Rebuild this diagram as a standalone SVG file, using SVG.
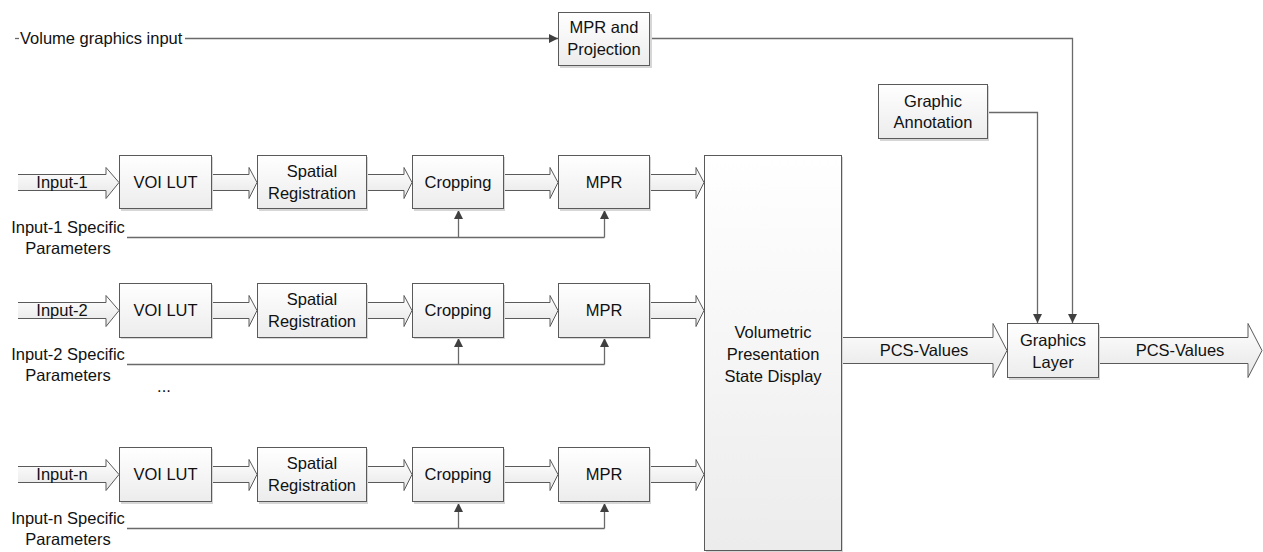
<svg xmlns="http://www.w3.org/2000/svg" width="1263" height="552" viewBox="0 0 1263 552">
  <defs>
    <linearGradient id="boxFill" x1="0" y1="0" x2="0" y2="1">
      <stop offset="0" stop-color="#ffffff"/>
      <stop offset="1" stop-color="#ececec"/>
    </linearGradient>
    <linearGradient id="arrowFill" x1="0" y1="0" x2="0" y2="1">
      <stop offset="0" stop-color="#ffffff"/>
      <stop offset="1" stop-color="#e6e6e6"/>
    </linearGradient>
    <marker id="head" viewBox="0 0 10 10" refX="10" refY="5" markerWidth="9" markerHeight="9" markerUnits="userSpaceOnUse" orient="auto">
      <path d="M0,0 L10,5 L0,10 Z" fill="#404040"/>
    </marker>
    <style>
      .box { fill: url(#boxFill); stroke: #5a5a5a; stroke-width: 1; }
      .shadow { fill: #d6d6d6; }
      .blk { fill: url(#arrowFill); stroke: #5a5a5a; stroke-width: 1; }
      .wire { fill: none; stroke: #6a6a6a; stroke-width: 1.3; }
      .wire-a { fill: none; stroke: #6a6a6a; stroke-width: 1.3; marker-end: url(#head); }
      text { font-family: "Liberation Sans", Arial, sans-serif; font-size: 16.5px; fill: #111111; }
      .c { text-anchor: middle; }
    </style>
  </defs>

  <rect width="1263" height="552" fill="#ffffff"/>

  <!-- thin connectors -->
  <g id="connectors">
    <path class="wire" d="M15,38.5 H19"/>
    <path class="wire-a" d="M185,38.5 H558"/>
    <path class="wire-a" d="M650,38.5 H1072.5 V323"/>
    <path class="wire-a" d="M988,112.5 H1037.5 V323"/>
    <!-- parameter lines -->
    <path class="wire" d="M127,237.5 H604.5"/>
    <path class="wire-a" d="M458.5,237.5 V210"/>
    <path class="wire-a" d="M604.5,237.5 V210"/>
    <path class="wire" d="M127,364.5 H604.5"/>
    <path class="wire-a" d="M458.5,364.5 V338"/>
    <path class="wire-a" d="M604.5,364.5 V338"/>
    <path class="wire" d="M127,528.5 H604.5"/>
    <path class="wire-a" d="M458.5,528.5 V503"/>
    <path class="wire-a" d="M604.5,528.5 V503"/>
  </g>

  <!-- block arrows -->
  <g id="flow-arrows">
    <!-- row 1 -->
    <path class="blk" d="M18,174.5 H106 V167.5 L119,182.5 L106,198.5 V190.5 H18"/>
    <path class="blk" d="M212,174.5 H249 V167.5 L257,182.5 L249,198.5 V190.5 H212"/>
    <path class="blk" d="M367,174.5 H404 V167.5 L412,182.5 L404,198.5 V190.5 H367"/>
    <path class="blk" d="M504,174.5 H550 V167.5 L558,182.5 L550,198.5 V190.5 H504"/>
    <path class="blk" d="M650,174.5 H696 V167.5 L704,182.5 L696,198.5 V190.5 H650"/>
    <!-- row 2 -->
    <path class="blk" d="M18,302.5 H106 V295.5 L119,310.5 L106,326.5 V318.5 H18"/>
    <path class="blk" d="M212,302.5 H249 V295.5 L257,310.5 L249,326.5 V318.5 H212"/>
    <path class="blk" d="M367,302.5 H404 V295.5 L412,310.5 L404,326.5 V318.5 H367"/>
    <path class="blk" d="M504,302.5 H550 V295.5 L558,310.5 L550,326.5 V318.5 H504"/>
    <path class="blk" d="M650,302.5 H696 V295.5 L704,310.5 L696,326.5 V318.5 H650"/>
    <!-- row n -->
    <path class="blk" d="M18,466.5 H106 V459.5 L119,474.5 L106,490.5 V482.5 H18"/>
    <path class="blk" d="M212,466.5 H249 V459.5 L257,474.5 L249,490.5 V482.5 H212"/>
    <path class="blk" d="M367,466.5 H404 V459.5 L412,474.5 L404,490.5 V482.5 H367"/>
    <path class="blk" d="M504,466.5 H550 V459.5 L558,474.5 L550,490.5 V482.5 H504"/>
    <path class="blk" d="M650,466.5 H696 V459.5 L704,474.5 L696,490.5 V482.5 H650"/>
    <!-- output side -->
    <path class="blk" d="M842,337.5 H993 V323.5 L1007,350.5 L993,377.5 V363.5 H842"/>
    <path class="blk" d="M1098,337.5 H1248 V323.5 L1262,350.5 L1248,377.5 V363.5 H1098"/>
  </g>

  <!-- flow labels -->
  <g id="labels">
    <text x="20" y="44">Volume graphics input</text>
    <text class="c" x="62" y="188">Input-1</text>
    <text class="c" x="62" y="316">Input-2</text>
    <text class="c" x="62" y="480">Input-n</text>
    <text class="c" x="68" y="233">Input-1 Specific</text>
    <text class="c" x="68" y="254">Parameters</text>
    <text class="c" x="68" y="360">Input-2 Specific</text>
    <text class="c" x="68" y="381">Parameters</text>
    <text class="c" x="68" y="524">Input-n Specific</text>
    <text class="c" x="68" y="545">Parameters</text>
    <text class="c" x="164" y="392">...</text>
    <text class="c" x="924" y="356">PCS-Values</text>
    <text class="c" x="1180" y="356">PCS-Values</text>
  </g>

  <!-- top nodes -->
  <g id="mpr-projection">
    <rect class="shadow" x="560" y="14" width="92" height="54"/>
    <rect class="box" x="558.5" y="12.5" width="91" height="53"/>
    <text class="c" x="604" y="33">MPR and</text>
    <text class="c" x="604" y="55">Projection</text>
  </g>
  <g id="graphic-annotation">
    <rect class="shadow" x="880" y="86" width="109" height="55"/>
    <rect class="box" x="878.5" y="84.5" width="109" height="54"/>
    <text class="c" x="933" y="107">Graphic</text>
    <text class="c" x="933" y="128">Annotation</text>
  </g>

  <!-- row 1 -->
  <g id="voi-lut-1">
    <rect class="shadow" x="121" y="157" width="92" height="54"/>
    <rect class="box" x="119.5" y="155.5" width="92" height="53"/>
    <text class="c" x="165.5" y="188">VOI LUT</text>
  </g>
  <g id="spatial-registration-1">
    <rect class="shadow" x="259" y="157" width="109" height="54"/>
    <rect class="box" x="257.5" y="155.5" width="109" height="53"/>
    <text class="c" x="312" y="177">Spatial</text>
    <text class="c" x="312" y="199">Registration</text>
  </g>
  <g id="cropping-1">
    <rect class="shadow" x="414" y="157" width="91" height="54"/>
    <rect class="box" x="412.5" y="155.5" width="91" height="53"/>
    <text class="c" x="458" y="188">Cropping</text>
  </g>
  <g id="mpr-1">
    <rect class="shadow" x="560" y="157" width="91" height="54"/>
    <rect class="box" x="558.5" y="155.5" width="91" height="53"/>
    <text class="c" x="604" y="188">MPR</text>
  </g>

  <!-- row 2 -->
  <g id="voi-lut-2">
    <rect class="shadow" x="121" y="285" width="92" height="54"/>
    <rect class="box" x="119.5" y="283.5" width="92" height="54"/>
    <text class="c" x="165.5" y="316">VOI LUT</text>
  </g>
  <g id="spatial-registration-2">
    <rect class="shadow" x="259" y="285" width="109" height="54"/>
    <rect class="box" x="257.5" y="283.5" width="109" height="54"/>
    <text class="c" x="312" y="305">Spatial</text>
    <text class="c" x="312" y="327">Registration</text>
  </g>
  <g id="cropping-2">
    <rect class="shadow" x="414" y="285" width="91" height="54"/>
    <rect class="box" x="412.5" y="283.5" width="91" height="54"/>
    <text class="c" x="458" y="316">Cropping</text>
  </g>
  <g id="mpr-2">
    <rect class="shadow" x="560" y="285" width="91" height="54"/>
    <rect class="box" x="558.5" y="283.5" width="91" height="54"/>
    <text class="c" x="604" y="316">MPR</text>
  </g>

  <!-- row n -->
  <g id="voi-lut-n">
    <rect class="shadow" x="121" y="449" width="92" height="55"/>
    <rect class="box" x="119.5" y="447.5" width="92" height="54"/>
    <text class="c" x="165.5" y="480">VOI LUT</text>
  </g>
  <g id="spatial-registration-n">
    <rect class="shadow" x="259" y="449" width="109" height="55"/>
    <rect class="box" x="257.5" y="447.5" width="109" height="54"/>
    <text class="c" x="312" y="469">Spatial</text>
    <text class="c" x="312" y="491">Registration</text>
  </g>
  <g id="cropping-n">
    <rect class="shadow" x="414" y="449" width="91" height="55"/>
    <rect class="box" x="412.5" y="447.5" width="91" height="54"/>
    <text class="c" x="458" y="480">Cropping</text>
  </g>
  <g id="mpr-n">
    <rect class="shadow" x="560" y="449" width="91" height="55"/>
    <rect class="box" x="558.5" y="447.5" width="91" height="54"/>
    <text class="c" x="604" y="480">MPR</text>
  </g>

  <!-- display and graphics layer -->
  <g id="volumetric-display">
    <rect class="shadow" x="706" y="157" width="137" height="396"/>
    <rect class="box" x="704.5" y="155.5" width="137" height="395"/>
    <text class="c" x="773" y="338">Volumetric</text>
    <text class="c" x="773" y="360">Presentation</text>
    <text class="c" x="773" y="382">State Display</text>
  </g>
  <g id="graphics-layer">
    <rect class="shadow" x="1009" y="325" width="91" height="55"/>
    <rect class="box" x="1007.5" y="323.5" width="91" height="54"/>
    <text class="c" x="1053" y="346">Graphics</text>
    <text class="c" x="1053" y="368">Layer</text>
  </g>
</svg>
